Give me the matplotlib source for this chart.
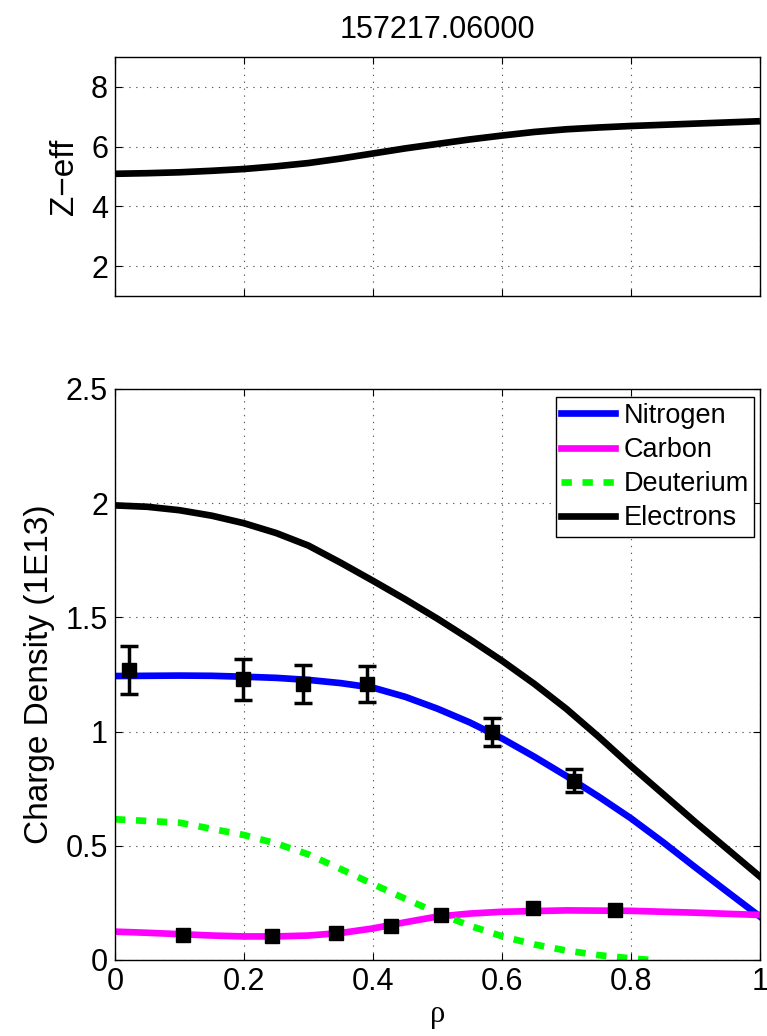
import matplotlib
matplotlib.use('Agg')
import matplotlib.pyplot as plt
import numpy as np

plt.rcParams['font.family'] = ['Liberation Sans', 'DejaVu Sans']

title = '157217.06000'

# top panel: Z-eff profile
rho_z = [0.0, 0.05, 0.1, 0.15, 0.2, 0.25, 0.3, 0.35, 0.4, 0.45, 0.5,
         0.55, 0.6, 0.65, 0.7, 0.75, 0.8, 0.9, 1.0]
zeff = [5.09, 5.11, 5.14, 5.19, 5.25, 5.34, 5.45, 5.6, 5.77, 5.94, 6.09,
        6.24, 6.37, 6.49, 6.58, 6.64, 6.69, 6.77, 6.85]

# bottom panel: charge density profiles (1E13)
rho = [0.0, 0.05, 0.1, 0.15, 0.2, 0.25, 0.3, 0.35, 0.4, 0.45, 0.5,
       0.55, 0.6, 0.65, 0.7, 0.75, 0.8, 0.85, 0.9, 0.95, 1.0]
nitrogen = [1.243, 1.244, 1.245, 1.244, 1.24, 1.235, 1.226, 1.212, 1.192, 1.152, 1.10,
            1.04, 0.97, 0.89, 0.805, 0.715, 0.62, 0.515, 0.405, 0.297, 0.19]
electrons = [1.99, 1.984, 1.969, 1.945, 1.912, 1.869, 1.814, 1.739, 1.66, 1.579, 1.494,
             1.404, 1.31, 1.209, 1.099, 0.977, 0.849, 0.726, 0.603, 0.484, 0.365]

rho_c = [0.0, 0.05, 0.1, 0.15, 0.2, 0.25, 0.3, 0.35, 0.4, 0.45, 0.5, 0.55, 0.6,
         0.7, 0.8, 0.9, 1.0]
carbon = [0.124, 0.119, 0.113, 0.107, 0.103, 0.103, 0.107, 0.118, 0.138, 0.165, 0.19,
          0.203, 0.211, 0.217, 0.215, 0.207, 0.197]

rho_d = [0.0, 0.1, 0.2, 0.25, 0.3, 0.35, 0.4, 0.45, 0.5, 0.55, 0.6, 0.65, 0.7,
         0.75, 0.8, 0.83]
deuterium = [0.616, 0.601, 0.547, 0.51, 0.462, 0.398, 0.332, 0.268, 0.206, 0.15, 0.104,
             0.068, 0.041, 0.021, 0.007, 0.0]

# measured points
rho_n_meas = [0.021, 0.198, 0.291, 0.39, 0.584, 0.711]
n_meas = [1.27, 1.229, 1.208, 1.208, 0.997, 0.785]
n_err = [0.105, 0.09, 0.085, 0.08, 0.062, 0.049]

rho_c_meas = [0.105, 0.244, 0.342, 0.428, 0.505, 0.648, 0.776]
c_meas = [0.109, 0.106, 0.117, 0.149, 0.197, 0.226, 0.219]

xticks = [0, 0.2, 0.4, 0.6, 0.8, 1]
xticklabels = ['0', '0.2', '0.4', '0.6', '0.8', '1']

fig = plt.figure(figsize=(7.67, 10.36), dpi=100)
ax1 = fig.add_axes([0.1499, 0.7143, 0.8409, 0.2307])
ax2 = fig.add_axes([0.1499, 0.0734, 0.8409, 0.5512])

lw = 4.8
grid_kw = dict(color='0.35', linestyle=(0, (1.2, 5)), linewidth=0.8)

for ax in (ax1, ax2):
    ax.set_xlim(0, 1)
    ax.set_xticks(xticks)
    ax.grid(True, **grid_kw)
    ax.tick_params(direction='in', top=True, right=True, length=5, width=0.8,
                   labelsize=22, pad=5)
    for s in ax.spines.values():
        s.set_linewidth(1.0)

# Z-eff
ax1.plot(rho_z, zeff, color='k', lw=lw, solid_capstyle='butt')
ax1.set_ylim(1, 9)
ax1.set_yticks([2, 4, 6, 8])
ax1.tick_params(labelbottom=False)
ax1.set_ylabel('Z\u2212eff', fontsize=24, labelpad=8)
ax1.set_title(title, fontsize=22, pad=14)

# densities
ax2.plot(rho, nitrogen, color='#0000ff', lw=lw, label='Nitrogen')
ax2.plot(rho_c, carbon, color='#ff00ff', lw=lw, label='Carbon')
ax2.plot(rho_d, deuterium, color='#00ff00', lw=lw, linestyle=(0, (1.55, 1.6)),
         dash_capstyle='butt', label='Deuterium')
ax2.plot(rho, electrons, color='k', lw=lw, label='Electrons')

ax2.errorbar(rho_n_meas, n_meas, yerr=n_err, fmt='s', color='k', ms=9.5,
             elinewidth=2.5, capsize=6.5, capthick=2.5, zorder=5)
ax2.plot(rho_c_meas, c_meas, 's', color='k', ms=9.5, zorder=5)

ax2.set_ylim(0, 2.5)
ax2.set_yticks([0, 0.5, 1, 1.5, 2, 2.5])
ax2.set_yticklabels(['0', '0.5', '1', '1.5', '2', '2.5'])
ax2.set_xticklabels(xticklabels)
ax2.set_ylabel('Charge Density (1E13)', fontsize=24, labelpad=8)
ax2.set_xlabel('\u03c1', fontsize=22, family=['Liberation Serif', 'DejaVu Serif'],
               labelpad=2)

leg = ax2.legend(loc='upper right', bbox_to_anchor=(0.991, 0.985), fontsize=19.5,
                 fancybox=False, framealpha=1, edgecolor='k', borderpad=0.2,
                 labelspacing=0.3, handlelength=2.0, handletextpad=0.3,
                 borderaxespad=0)
leg.get_frame().set_linewidth(1.0)

fig.savefig('out.png', dpi=100)
